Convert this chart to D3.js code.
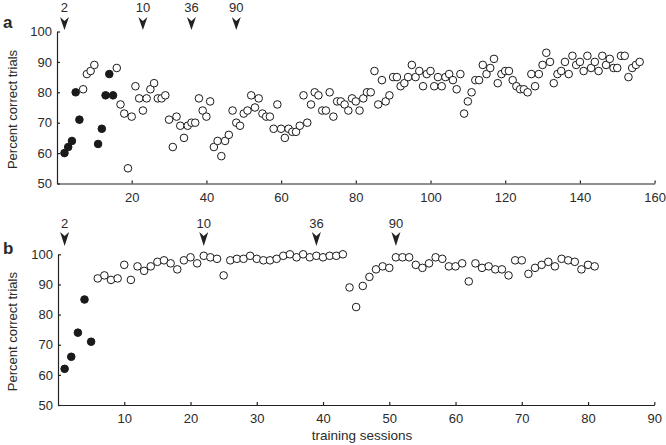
<!DOCTYPE html>
<html>
<head>
<meta charset="utf-8">
<script src="https://cdn.jsdelivr.net/npm/d3@7"></script>
<style>
  html, body { margin: 0; padding: 0; background: #fff; }
  svg text { font-family: "Liberation Sans", Arial, sans-serif; fill: #2a2a2a; }
</style>
</head>
<body>
<svg id="chart" width="666" height="445"></svg>
<script>
// ---------- Data ----------
// Panel a: sessions 2..156
const aFirstSession = 2;
const aValues = [60,62,64,80,71,81,86,87,89,63,68,79,86,79,88,76,73,55,72,82,
  78,74,78,81,83,78,78,79,71,62,72,69,65,69,70,70,78,74,72,77,
  62,64,59,64,66,74,70,69,73,74,79,75,78,73,72,72,68,76,68,65,
  68,67,67,69,79,70,76,80,79,74,74,80,72,77,77,76,74,78,77,74,
  78,80,80,87,76,84,77,79,85,85,82,83,85,89,85,87,82,86,87,82,
  85,82,85,86,84,81,86,73,77,80,84,84,89,86,88,91,83,86,87,87,
  84,82,81,81,80,86,82,86,89,93,90,83,86,87,90,86,92,89,90,87,
  92,88,90,87,92,89,91,88,88,92,92,85,88,89,90];
const aFilledIdx = [0,1,2,3,4,9,10,11,12,13];
const aArrowSessions = [2,23,36,48];
const aArrowLabels = ["2","10","36","90"];
const aXTicks = [20,40,60,80,100,120,140,160];

// Panel b: sessions 1..81
const bFirstSession = 1;
const bValues = [62,66,74,85,71,92,93,91.5,92,96.5,91.5,96,94.5,96,97.5,98,97,95,98,99,
  97,99.5,99,98.5,93,98,98.5,98.5,99.5,98.5,98,98,98.5,99.5,100,99,100,99,99.5,99,
  99.5,99.5,100,89,82.5,89.5,92.5,95,96,95.5,99,99,99,96.5,95.5,97,99,98.5,96,96,
  97,91,97,95.5,96,95,95,93,98,98,93.5,95.5,96.5,97.5,96,98.5,98,97.5,95,96.5,96];
const bFilledIdx = [0,1,2,3,4];
const bArrowSessions = [1,22,39,51];
const bArrowLabels = ["2","10","36","90"];
const bXTicks = [10,20,30,40,50,60,70,80,90];

const yTicks = [50,60,70,80,90,100];

// ---------- Drawing ----------
const svg = d3.select("#chart");
const FONT = '"Liberation Sans", Arial, sans-serif';

function panel(cfg) {
  const x = d3.scaleLinear().domain([0, cfg.xMax]).range([cfg.left, cfg.right]);
  const y = d3.scaleLinear().domain([50, 100]).range([cfg.bottom, cfg.top]);
  const g = svg.append("g");

  const xAxis = g.append("g")
    .attr("transform", `translate(0,${cfg.bottom})`)
    .call(d3.axisBottom(x).tickValues(cfg.xTicks).tickSizeInner(-3).tickSizeOuter(0).tickPadding(9));
  const yAxis = g.append("g")
    .attr("transform", `translate(${cfg.left},0)`)
    .call(d3.axisLeft(y).tickValues(yTicks).tickSizeInner(-3).tickSizeOuter(0).tickPadding(5));
  [xAxis, yAxis].forEach(a => {
    a.selectAll("path.domain").attr("stroke", "#222").attr("stroke-width", 1.2);
    a.selectAll(".tick line").attr("stroke", "#222").attr("stroke-width", 1.2);
    a.selectAll(".tick text").style("font-size", "13px").style("font-family", FONT).attr("fill", "#2a2a2a");
  });

  const pts = cfg.values.map((v, i) => ({ s: cfg.first + i, v, filled: cfg.filled.includes(i) }));
  g.append("g").selectAll("circle").data(pts).join("circle")
    .attr("cx", d => x(d.s))
    .attr("cy", d => y(d.v))
    .attr("r", 3.8)
    .attr("fill", d => d.filled ? "#1a1a1a" : "#fff")
    .attr("stroke", "#1a1a1a")
    .attr("stroke-width", 1);

  // arrows
  const arr = cfg.arrows.map((s, i) => ({ s, label: cfg.arrowLabels[i] }));
  const ag = g.append("g").selectAll("g").data(arr).join("g")
    .attr("transform", d => `translate(${x(d.s)},0)`);
  ag.append("path")
    .attr("d", `M-4.5,${cfg.arrowTop} L0,${cfg.arrowTop + 4} L4.5,${cfg.arrowTop} L0,${cfg.arrowTip} Z`)
    .attr("fill", "#222");
  ag.append("text")
    .attr("x", 0).attr("y", cfg.arrowLabelY)
    .attr("text-anchor", "middle")
    .style("font-size", "13px")
    .text(d => d.label);

  // panel letter
  svg.append("text").attr("x", 3).attr("y", cfg.letterY)
    .style("font-size", "17px").style("font-weight", "bold").attr("fill", "#111").text(cfg.letter);

  // y label
  svg.append("text")
    .attr("transform", `translate(16.5,${(cfg.top + cfg.bottom) / 2 + 2}) rotate(-90)`)
    .attr("text-anchor", "middle")
    .style("font-size", "13px")
    .text("Percent correct trials");
  return { x, y };
}

panel({ xMax: 160, left: 57, right: 654.6, top: 31.5, bottom: 183.5,
  xTicks: aXTicks, values: aValues, first: aFirstSession, filled: aFilledIdx,
  arrows: aArrowSessions, arrowLabels: aArrowLabels,
  arrowTop: 17, arrowTip: 30, arrowLabelY: 12, letter: "a", letterY: 28 });

panel({ xMax: 90, left: 58, right: 654.3, top: 254.3, bottom: 405,
  xTicks: bXTicks, values: bValues, first: bFirstSession, filled: bFilledIdx,
  arrows: bArrowSessions, arrowLabels: bArrowLabels,
  arrowTop: 232, arrowTip: 246, arrowLabelY: 228, letter: "b", letterY: 254 });

svg.append("text")
  .attr("x", 362).attr("y", 440)
  .attr("text-anchor", "middle")
  .style("font-size", "13.5px")
  .text("training sessions");
</script>
</body>
</html>
